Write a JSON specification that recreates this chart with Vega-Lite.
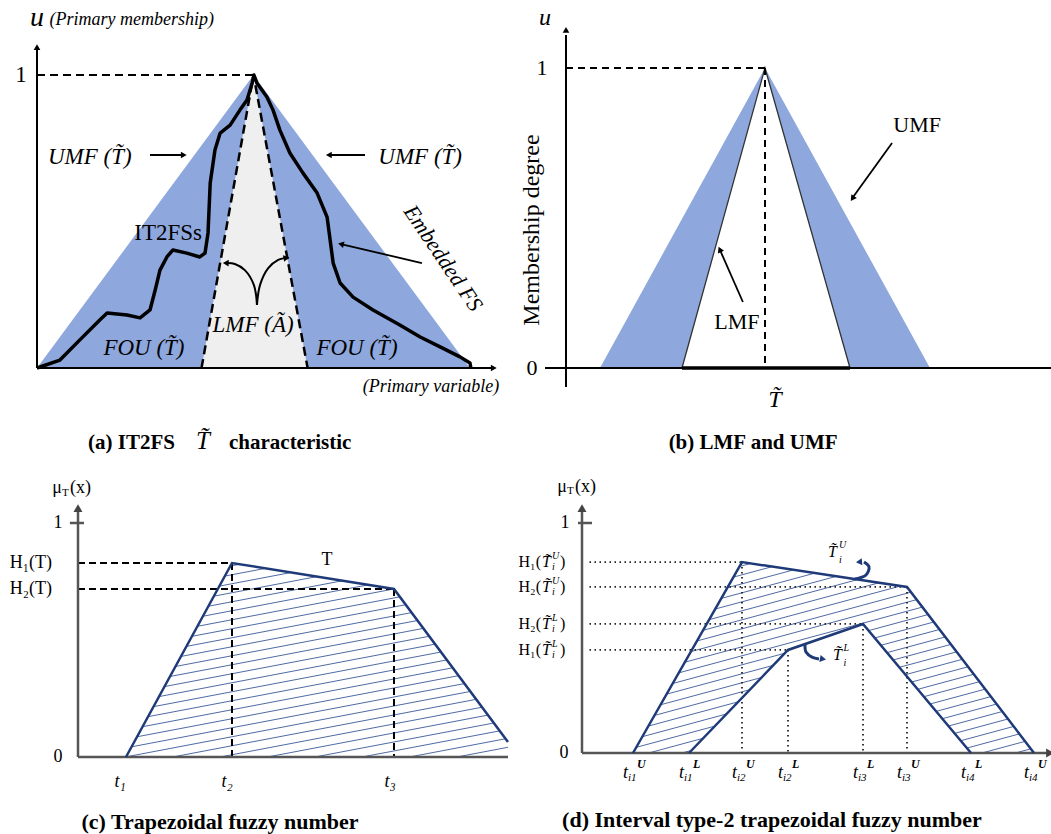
{
"$schema": "https://vega.github.io/schema/vega-lite/v6.json",
"background": "white",
"padding": 0,
"spacing": 0,
"config": {"view": {"stroke": null}, "concat": {"spacing": 0}, "text": {"font": "Liberation Serif", "baseline": "middle"}},
"datasets": {
"a_umf": [{"x":0,"y":0},{"x":5,"y":1},{"x":10,"y":0}],
"a_lmf": [{"x":3.8,"y":0},{"x":5,"y":1},{"x":6.25,"y":0}],
"a_axes": [{"x":0,"y":0,"x2":0,"y2":1.09},{"x":0,"y":0,"x2":10.5,"y2":0}],
"a_dash": [{"x":0,"y":1,"x2":5,"y2":1},{"x":0,"y":0,"x2":3.8,"y2":0},{"x":6.25,"y":0,"x2":10,"y2":0}],
"a_emb": [{"i":1,"x":0,"y":0},{"i":2,"x":0.53,"y":0.027},{"i":3,"x":0.99,"y":0.096},{"i":4,"x":1.45,"y":0.164},{"i":5,"x":1.62,"y":0.188},{"i":6,"x":2.08,"y":0.181},{"i":7,"x":2.38,"y":0.171},{"i":8,"x":2.61,"y":0.198},{"i":9,"x":2.73,"y":0.266},{"i":10,"x":2.84,"y":0.334},{"i":11,"x":3.0,"y":0.379},{"i":12,"x":3.14,"y":0.403},{"i":13,"x":3.46,"y":0.392},{"i":14,"x":3.76,"y":0.379},{"i":15,"x":3.88,"y":0.392},{"i":16,"x":3.95,"y":0.461},{"i":17,"x":4.0,"y":0.631},{"i":18,"x":4.11,"y":0.744},{"i":19,"x":4.23,"y":0.802},{"i":20,"x":4.46,"y":0.829},{"i":21,"x":4.69,"y":0.881},{"i":22,"x":4.85,"y":0.915},{"i":23,"x":4.97,"y":0.973},{"i":24,"x":5.01,"y":1.0},{"i":25,"x":5.08,"y":0.973},{"i":26,"x":5.31,"y":0.925},{"i":27,"x":5.45,"y":0.881},{"i":28,"x":5.61,"y":0.812},{"i":29,"x":5.84,"y":0.734},{"i":30,"x":6.14,"y":0.666},{"i":31,"x":6.47,"y":0.597},{"i":32,"x":6.7,"y":0.515},{"i":33,"x":6.77,"y":0.437},{"i":34,"x":6.84,"y":0.358},{"i":35,"x":7.0,"y":0.29},{"i":36,"x":7.3,"y":0.242},{"i":37,"x":7.76,"y":0.198},{"i":38,"x":8.38,"y":0.147},{"i":39,"x":8.85,"y":0.106},{"i":40,"x":9.31,"y":0.072},{"i":41,"x":9.77,"y":0.038},{"i":42,"x":10.0,"y":0.017},{"i":43,"x":10.02,"y":0}],
"a_arrows": [{"x":2.61,"y":0.727,"x2":3.39,"y2":0.727},{"x":7.575,"y":0.727,"x2":6.74,"y2":0.727},{"x":8.89,"y":0.358,"x2":7.02,"y2":0.423}],
"a_curves": [{"g":"L","i":1,"x":5.08,"y":0.215},{"g":"L","i":2,"x":5.01,"y":0.283},{"g":"L","i":3,"x":4.8,"y":0.334},{"g":"L","i":4,"x":4.57,"y":0.355},{"g":"L","i":5,"x":4.4,"y":0.358},{"g":"R","i":1,"x":5.08,"y":0.215},{"g":"R","i":2,"x":5.15,"y":0.283},{"g":"R","i":3,"x":5.34,"y":0.341},{"g":"R","i":4,"x":5.57,"y":0.369},{"g":"R","i":5,"x":5.72,"y":0.375}],
"a_heads": [{"x":0,"y":1.095,"dir":0},{"x":10.55,"y":0,"dir":90},{"x":3.39,"y":0.727,"dir":90},{"x":6.74,"y":0.727,"dir":270},{"x":7.02,"y":0.423,"dir":283},{"x":4.36,"y":0.358,"dir":272},{"x":5.76,"y":0.376,"dir":78}],
"a_it23": [{"x":1.22,"y":0.72,"t":"UMF (T̃)"},{"x":8.85,"y":0.72,"t":"UMF (T̃)"},{"x":4.99,"y":0.147,"t":"LMF (Ã)"},{"x":2.47,"y":0.068,"t":"FOU (T̃)"},{"x":7.39,"y":0.068,"t":"FOU (T̃)"}],
"a_emb_t": [{"x":9.38,"y":0.375,"t":"Embedded FS"}],
"a_up23": [{"x":3.03,"y":0.461,"t":"IT2FSs"},{"x":-0.37,"y":1.0,"t":"1"}],
"a_it18": [{"x":9.1,"y":-0.065,"t":"(Primary variable)"},{"x":2.19,"y":1.188,"t":"(Primary membership)"}],
"a_u": [{"x":0,"y":1.195,"t":"u"}],
"a_cap": [{"x":1.178,"y":-0.256,"t":"(a)  IT2FS"},{"x":4.434,"y":-0.256,"t":"characteristic"}],
"a_capT": [{"x":3.83,"y":-0.25,"t":"T̃"}],
"b_umf": [{"x":1.03,"y":0},{"x":6.03,"y":1},{"x":11.03,"y":0}],
"b_lmf": [{"x":3.515,"y":0},{"x":6.03,"y":1},{"x":8.606,"y":0}],
"b_base": [{"x":3.515,"y":0,"x2":8.606,"y2":0}],
"b_dash": [{"x":0,"y":1,"x2":6.03,"y2":1},{"x":6.03,"y":1,"x2":6.03,"y2":0}],
"b_axes": [{"x":0,"y":-0.063,"x2":0,"y2":1.11},{"x":-0.636,"y":0,"x2":14.697,"y2":0}],
"b_arrows": [{"x":9.88,"y":0.75,"x2":8.7,"y2":0.57},{"x":5.36,"y":0.22,"x2":4.68,"y2":0.39}],
"b_heads": [{"x":0,"y":1.127,"dir":0},{"x":8.68,"y":0.565,"dir":215},{"x":4.66,"y":0.395,"dir":336}],
"b_it": [{"x":-0.636,"y":1.167,"t":"u"},{"x":6.33,"y":-0.107,"t":"T̃"}],
"b_up22": [{"x":-0.727,"y":1,"t":"1"},{"x":-1.03,"y":0,"t":"0"},{"x":10.64,"y":0.81,"t":"UMF"},{"x":5.18,"y":0.153,"t":"LMF"}],
"b_rot": [{"x":-1.03,"y":0.46,"t":"Membership degree"}],
"b_cap": [{"x":5.67,"y":-0.25,"t":"(b)  LMF and UMF"}],
"c_outline": [{"x":1.6,"y":0},{"x":5.133,"y":0.829},{"x":10.533,"y":0.718},{"x":14.333,"y":0.064}],
"c_hatch": [{"x":14.21,"y":0,"x2":14.333,"y2":0.003},{"x":12.63,"y":0,"x2":14.333,"y2":0.0415},{"x":11.05,"y":0,"x2":14.333,"y2":0.0799},{"x":9.47,"y":0,"x2":14.333,"y2":0.1184},{"x":7.895,"y":0,"x2":14.333,"y2":0.1568},{"x":6.316,"y":0,"x2":14.333,"y2":0.1953},{"x":4.737,"y":0,"x2":14.333,"y2":0.2338},{"x":3.158,"y":0,"x2":14.333,"y2":0.2722},{"x":1.6,"y":0.0005,"x2":14.333,"y2":0.3107},{"x":1.6,"y":0.039,"x2":14.333,"y2":0.3491},{"x":1.6,"y":0.0774,"x2":14.333,"y2":0.3876},{"x":1.6,"y":0.1159,"x2":14.333,"y2":0.4261},{"x":1.6,"y":0.1544,"x2":14.333,"y2":0.4645},{"x":1.6,"y":0.1928,"x2":14.333,"y2":0.503},{"x":1.6,"y":0.2313,"x2":14.333,"y2":0.5415},{"x":1.6,"y":0.2697,"x2":14.333,"y2":0.5799},{"x":1.6,"y":0.3082,"x2":14.333,"y2":0.6184},{"x":1.6,"y":0.3467,"x2":14.333,"y2":0.6568},{"x":1.6,"y":0.3851,"x2":14.333,"y2":0.6953},{"x":1.6,"y":0.4236,"x2":14.333,"y2":0.7338},{"x":1.6,"y":0.4621,"x2":14.333,"y2":0.7722},{"x":1.6,"y":0.5005,"x2":14.333,"y2":0.8107},{"x":1.6,"y":0.539,"x2":14.333,"y2":0.8491},{"x":1.6,"y":0.5774,"x2":14.333,"y2":0.8876},{"x":1.6,"y":0.6159,"x2":14.333,"y2":0.9261},{"x":1.6,"y":0.6544,"x2":14.333,"y2":0.9645},{"x":1.6,"y":0.6928,"x2":14.333,"y2":1.003},{"x":1.6,"y":0.7313,"x2":14.333,"y2":1.0415}],
"c_dash": [{"x":0,"y":0.829,"x2":5.133,"y2":0.829},{"x":0,"y":0.718,"x2":10.533,"y2":0.718},{"x":5.133,"y":0.829,"x2":5.133,"y2":0},{"x":10.533,"y":0.718,"x2":10.533,"y2":0}],
"c_axes": [{"x":0,"y":0,"x2":0,"y2":1.05},{"x":0,"y":0,"x2":14.333,"y2":0},{"x":-0.27,"y":1,"x2":0.2,"y2":1}],
"c_heads": [{"x":0,"y":1.064,"dir":0}],
"c_up18": [{"x":-0.667,"y":1,"t":"1"},{"x":-0.667,"y":0,"t":"0"},{"x":8.3,"y":0.842,"t":"T"}],
"c_H": [{"x":-0.867,"y":0.829,"t":"H₁(T)"},{"x":-0.867,"y":0.718,"t":"H₂(T)"}],
"c_t": [{"x":1.4,"y":-0.107,"t":"t₁"},{"x":4.97,"y":-0.107,"t":"t₂"},{"x":10.4,"y":-0.107,"t":"t₃"}],
"c_mu": [{"x":-0.533,"y":1.15,"t":"μ"}],
"c_muT": [{"x":-0.533,"y":1.128,"t":"T"}],
"c_mux": [{"x":-0.267,"y":1.15,"t":"(x)"}],
"c_cap": [{"x":4.733,"y":-0.2778,"t":"(c)  Trapezoidal fuzzy number"}],
"d_upper": [{"x":1.7,"y":0},{"x":5.333,"y":0.83},{"x":10.833,"y":0.722},{"x":15.067,"y":0}],
"d_lower": [{"x":3.567,"y":0},{"x":6.867,"y":0.448},{"x":9.367,"y":0.561},{"x":12.967,"y":0}],
"d_hatch": [{"x":14.444,"y":0,"x2":15.067,"y2":0.0219},{"x":13.333,"y":0,"x2":15.067,"y2":0.061},{"x":12.222,"y":0,"x2":15.067,"y2":0.1002},{"x":11.111,"y":0,"x2":15.067,"y2":0.1393},{"x":10.0,"y":0,"x2":15.067,"y2":0.1784},{"x":8.889,"y":0,"x2":15.067,"y2":0.2176},{"x":7.778,"y":0,"x2":15.067,"y2":0.2567},{"x":6.667,"y":0,"x2":15.067,"y2":0.2958},{"x":5.556,"y":0,"x2":15.067,"y2":0.335},{"x":4.444,"y":0,"x2":15.067,"y2":0.3741},{"x":3.333,"y":0,"x2":15.067,"y2":0.4132},{"x":2.222,"y":0,"x2":15.067,"y2":0.4523},{"x":1.7,"y":0.0207,"x2":15.067,"y2":0.4915},{"x":1.7,"y":0.0599,"x2":15.067,"y2":0.5306},{"x":1.7,"y":0.099,"x2":15.067,"y2":0.5697},{"x":1.7,"y":0.1381,"x2":15.067,"y2":0.6089},{"x":1.7,"y":0.1773,"x2":15.067,"y2":0.648},{"x":1.7,"y":0.2164,"x2":15.067,"y2":0.6871},{"x":1.7,"y":0.2555,"x2":15.067,"y2":0.7263},{"x":1.7,"y":0.2947,"x2":15.067,"y2":0.7654},{"x":1.7,"y":0.3338,"x2":15.067,"y2":0.8045},{"x":1.7,"y":0.3729,"x2":15.067,"y2":0.8437},{"x":1.7,"y":0.412,"x2":15.067,"y2":0.8828},{"x":1.7,"y":0.4512,"x2":15.067,"y2":0.9219},{"x":1.7,"y":0.4903,"x2":15.067,"y2":0.961},{"x":1.7,"y":0.5294,"x2":15.067,"y2":1.0002},{"x":1.7,"y":0.5686,"x2":15.067,"y2":1.0393},{"x":1.7,"y":0.6077,"x2":15.067,"y2":1.0784},{"x":1.7,"y":0.6468,"x2":15.067,"y2":1.1176},{"x":1.7,"y":0.686,"x2":15.067,"y2":1.1567}],
"d_dots": [{"x":0.25,"y":0.83,"x2":5.333,"y2":0.83},{"x":0.25,"y":0.722,"x2":10.833,"y2":0.722},{"x":0.25,"y":0.561,"x2":9.367,"y2":0.561},{"x":0.25,"y":0.448,"x2":6.867,"y2":0.448},{"x":5.333,"y":0.83,"x2":5.333,"y2":0},{"x":10.833,"y":0.722,"x2":10.833,"y2":0},{"x":6.867,"y":0.448,"x2":6.867,"y2":0},{"x":9.367,"y":0.561,"x2":9.367,"y2":0}],
"d_axes": [{"x":0,"y":0,"x2":0,"y2":1.05},{"x":0,"y":0,"x2":15.5,"y2":0},{"x":-0.133,"y":1,"x2":0.333,"y2":1}],
"d_heads": [{"x":0,"y":1.065,"dir":0},{"x":15.6,"y":0,"dir":90}],
"d_curl": [{"g":"U","i":1,"x":9.1,"y":0.757},{"g":"U","i":2,"x":9.467,"y":0.774},{"g":"U","i":3,"x":9.567,"y":0.809},{"g":"U","i":4,"x":9.4,"y":0.83},{"g":"L","i":1,"x":7.433,"y":0.474},{"g":"L","i":2,"x":7.467,"y":0.439},{"g":"L","i":3,"x":7.667,"y":0.417},{"g":"L","i":4,"x":7.9,"y":0.409}],
"d_curlheads": [{"x":9.233,"y":0.83,"dir":265},{"x":8.033,"y":0.409,"dir":100}],
"d_up18": [{"x":-0.567,"y":1,"t":"1"},{"x":-0.6,"y":0,"t":"0"}],
"d_mu": [{"x":-0.5,"y":1.157,"t":"μ"}],
"d_muT": [{"x":-0.5,"y":1.137,"t":"T"}],
"d_mux": [{"x":-0.233,"y":1.157,"t":"(x)"}],
"d_H": [{"x":-1.033,"y":0.83,"h":"H₁(","s":"U"},{"x":-1.033,"y":0.722,"h":"H₂(","s":"U"},{"x":-1.033,"y":0.561,"h":"H₂(","s":"L"},{"x":-1.033,"y":0.448,"h":"H₁(","s":"L"}],
"d_t": [{"x":1.533,"y":-0.087,"s":"i1","p":"U"},{"x":3.4,"y":-0.087,"s":"i1","p":"L"},{"x":5.167,"y":-0.087,"s":"i2","p":"U"},{"x":6.7,"y":-0.087,"s":"i2","p":"L"},{"x":9.2,"y":-0.087,"s":"i3","p":"L"},{"x":10.667,"y":-0.087,"s":"i3","p":"U"},{"x":12.8,"y":-0.087,"s":"i4","p":"L"},{"x":14.9,"y":-0.087,"s":"i4","p":"U"}],
"d_Tlab": [{"x":8.2,"y":0.874},{"x":8.367,"y":0.426}],
"d_Tsmall": [{"x":8.567,"y":0.904,"t":"U"},{"x":8.567,"y":0.839,"t":"i"},{"x":8.72,"y":0.456,"t":"L"},{"x":8.72,"y":0.39,"t":"i"}],
"d_cap": [{"x":6.333,"y":-0.291,"t":"(d)  Interval type-2 trapezoidal fuzzy number"}]
},
"vconcat": [
{"spacing": 0, "bounds": "flush", "hconcat": [
{"width": 530, "height": 460,
 "encoding": {
  "x": {"field": "x", "type": "quantitative", "scale": {"domain": [-0.8545, 11.386], "nice": false, "zero": false}, "axis": null},
  "y": {"field": "y", "type": "quantitative", "scale": {"domain": [-0.314, 1.256], "nice": false, "zero": false}, "axis": null}},
 "layer": [
  {"data": {"name": "a_umf"}, "mark": {"type": "area", "color": "#8ea7dc"}, "encoding": {"y2": {"datum": 0}}},
  {"data": {"name": "a_lmf"}, "mark": {"type": "area", "color": "#efefef"}, "encoding": {"y2": {"datum": 0}}},
  {"data": {"name": "a_axes"}, "mark": {"type": "rule", "color": "black", "strokeWidth": 2}, "encoding": {"x2": {"field": "x2"}, "y2": {"field": "y2"}}},
  {"data": {"name": "a_lmf"}, "mark": {"type": "line", "color": "black", "strokeWidth": 2.5, "strokeDash": [9, 5]}, "encoding": {}},
  {"data": {"name": "a_dash"}, "mark": {"type": "rule", "color": "black", "strokeWidth": 2.2, "strokeDash": [8, 5]}, "encoding": {"x2": {"field": "x2"}, "y2": {"field": "y2"}}},
  {"data": {"name": "a_emb"}, "mark": {"type": "line", "color": "black", "strokeWidth": 3.5, "strokeJoin": "round"}, "encoding": {"order": {"field": "i"}}},
  {"data": {"name": "a_arrows"}, "mark": {"type": "rule", "color": "black", "strokeWidth": 1.8}, "encoding": {"x2": {"field": "x2"}, "y2": {"field": "y2"}}},
  {"data": {"name": "a_curves"}, "mark": {"type": "line", "color": "black", "strokeWidth": 2, "interpolate": "catmull-rom"}, "encoding": {"detail": {"field": "g"}, "order": {"field": "i"}}},
  {"data": {"name": "a_heads"}, "mark": {"type": "point", "shape": "triangle-up", "filled": true, "color": "black", "size": 45, "opacity": 1}, "encoding": {"angle": {"field": "dir", "type": "quantitative", "scale": null}}},
  {"data": {"name": "a_it23"}, "mark": {"type": "text", "fontStyle": "italic", "fontSize": 23}, "encoding": {"text": {"field": "t"}}},
  {"data": {"name": "a_emb_t"}, "mark": {"type": "text", "fontStyle": "italic", "fontSize": 22, "angle": 56}, "encoding": {"text": {"field": "t"}}},
  {"data": {"name": "a_up23"}, "mark": {"type": "text", "fontSize": 23}, "encoding": {"text": {"field": "t"}}},
  {"data": {"name": "a_it18"}, "mark": {"type": "text", "fontStyle": "italic", "fontSize": 18}, "encoding": {"text": {"field": "t"}}},
  {"data": {"name": "a_u"}, "mark": {"type": "text", "fontStyle": "italic", "fontSize": 28}, "encoding": {"text": {"field": "t"}}},
  {"data": {"name": "a_cap"}, "mark": {"type": "text", "fontWeight": "bold", "fontSize": 21, "align": "left"}, "encoding": {"text": {"field": "t"}}},
  {"data": {"name": "a_capT"}, "mark": {"type": "text", "fontStyle": "italic", "fontSize": 25}, "encoding": {"text": {"field": "t"}}}
 ]},
{"width": 521, "height": 460,
 "encoding": {
  "x": {"field": "x", "type": "quantitative", "scale": {"domain": [-1.0909, 14.697], "nice": false, "zero": false}, "axis": null},
  "y": {"field": "y", "type": "quantitative", "scale": {"domain": [-0.3067, 1.2267], "nice": false, "zero": false}, "axis": null}},
 "layer": [
  {"data": {"name": "b_umf"}, "mark": {"type": "area", "color": "#8ea7dc"}, "encoding": {"y2": {"datum": 0}}},
  {"data": {"name": "b_lmf"}, "mark": {"type": "area", "color": "white"}, "encoding": {"y2": {"datum": 0}}},
  {"data": {"name": "b_lmf"}, "mark": {"type": "line", "color": "#333333", "strokeWidth": 1.3}, "encoding": {}},
  {"data": {"name": "b_axes"}, "mark": {"type": "rule", "color": "black", "strokeWidth": 2}, "encoding": {"x2": {"field": "x2"}, "y2": {"field": "y2"}}},
  {"data": {"name": "b_base"}, "mark": {"type": "rule", "color": "black", "strokeWidth": 3.5}, "encoding": {"x2": {"field": "x2"}, "y2": {"field": "y2"}}},
  {"data": {"name": "b_dash"}, "mark": {"type": "rule", "color": "black", "strokeWidth": 2, "strokeDash": [7, 5]}, "encoding": {"x2": {"field": "x2"}, "y2": {"field": "y2"}}},
  {"data": {"name": "b_arrows"}, "mark": {"type": "rule", "color": "black", "strokeWidth": 1.8}, "encoding": {"x2": {"field": "x2"}, "y2": {"field": "y2"}}},
  {"data": {"name": "b_heads"}, "mark": {"type": "point", "shape": "triangle-up", "filled": true, "color": "black", "size": 45, "opacity": 1}, "encoding": {"angle": {"field": "dir", "type": "quantitative", "scale": null}}},
  {"data": {"name": "b_it"}, "mark": {"type": "text", "fontStyle": "italic", "fontSize": 24}, "encoding": {"text": {"field": "t"}}},
  {"data": {"name": "b_up22"}, "mark": {"type": "text", "fontSize": 22}, "encoding": {"text": {"field": "t"}}},
  {"data": {"name": "b_rot"}, "mark": {"type": "text", "fontSize": 24, "angle": 270}, "encoding": {"text": {"field": "t"}}},
  {"data": {"name": "b_cap"}, "mark": {"type": "text", "fontWeight": "bold", "fontSize": 21}, "encoding": {"text": {"field": "t"}}}
 ]}
]},
{"spacing": 0, "bounds": "flush", "hconcat": [
{"width": 510, "height": 374,
 "encoding": {
  "x": {"field": "x", "type": "quantitative", "scale": {"domain": [-2.6, 14.4], "nice": false, "zero": false}, "axis": null},
  "y": {"field": "y", "type": "quantitative", "scale": {"domain": [-0.3291, 1.2692], "nice": false, "zero": false}, "axis": null}},
 "layer": [
  {"data": {"name": "c_hatch"}, "mark": {"type": "rule", "color": "#3b5998", "strokeWidth": 0.9, "clip": true}, "encoding": {"x2": {"field": "x2"}, "y2": {"field": "y2"}}},
  {"data": {"name": "c_outline"}, "mark": {"type": "area", "color": "white", "clip": true}, "encoding": {"y2": {"datum": 1.27}}},
  {"data": {"name": "c_dash"}, "mark": {"type": "rule", "color": "black", "strokeWidth": 2, "strokeDash": [7, 4]}, "encoding": {"x2": {"field": "x2"}, "y2": {"field": "y2"}}},
  {"data": {"name": "c_axes"}, "mark": {"type": "rule", "color": "#555555", "strokeWidth": 2.5}, "encoding": {"x2": {"field": "x2"}, "y2": {"field": "y2"}}},
  {"data": {"name": "c_heads"}, "mark": {"type": "point", "shape": "triangle-up", "filled": true, "color": "#444444", "size": 80, "opacity": 1}, "encoding": {"angle": {"field": "dir", "type": "quantitative", "scale": null}}},
  {"data": {"name": "c_outline"}, "mark": {"type": "line", "color": "#1f3a78", "strokeWidth": 2.5}, "encoding": {}},
  {"data": {"name": "c_up18"}, "mark": {"type": "text", "fontSize": 18}, "encoding": {"text": {"field": "t"}}},
  {"data": {"name": "c_H"}, "mark": {"type": "text", "fontSize": 18, "align": "right"}, "encoding": {"text": {"field": "t"}}},
  {"data": {"name": "c_t"}, "mark": {"type": "text", "fontSize": 18, "fontStyle": "italic"}, "encoding": {"text": {"field": "t"}}},
  {"data": {"name": "c_mu"}, "mark": {"type": "text", "fontSize": 18, "align": "right"}, "encoding": {"text": {"field": "t"}}},
  {"data": {"name": "c_muT"}, "mark": {"type": "text", "fontSize": 11, "align": "left"}, "encoding": {"text": {"field": "t"}}},
  {"data": {"name": "c_mux"}, "mark": {"type": "text", "fontSize": 18, "align": "left"}, "encoding": {"text": {"field": "t"}}},
  {"data": {"name": "c_cap"}, "mark": {"type": "text", "fontWeight": "bold", "fontSize": 22}, "encoding": {"text": {"field": "t"}}}
 ]},
{"width": 541, "height": 374,
 "encoding": {
  "x": {"field": "x", "type": "quantitative", "scale": {"domain": [-2.4, 15.6333], "nice": false, "zero": false}, "axis": null},
  "y": {"field": "y", "type": "quantitative", "scale": {"domain": [-0.3522, 1.2739], "nice": false, "zero": false}, "axis": null}},
 "layer": [
  {"data": {"name": "d_hatch"}, "mark": {"type": "rule", "color": "#3b5998", "strokeWidth": 0.9, "clip": true}, "encoding": {"x2": {"field": "x2"}, "y2": {"field": "y2"}}},
  {"data": {"name": "d_upper"}, "mark": {"type": "area", "color": "white", "clip": true}, "encoding": {"y2": {"datum": 1.28}}},
  {"data": {"name": "d_lower"}, "mark": {"type": "area", "color": "white"}, "encoding": {"y2": {"datum": 0}}},
  {"data": {"name": "d_dots"}, "mark": {"type": "rule", "color": "#222222", "strokeWidth": 1.8, "strokeDash": [1.5, 3.5]}, "encoding": {"x2": {"field": "x2"}, "y2": {"field": "y2"}}},
  {"data": {"name": "d_axes"}, "mark": {"type": "rule", "color": "#555555", "strokeWidth": 2.5}, "encoding": {"x2": {"field": "x2"}, "y2": {"field": "y2"}}},
  {"data": {"name": "d_heads"}, "mark": {"type": "point", "shape": "triangle-up", "filled": true, "color": "#444444", "size": 80, "opacity": 1}, "encoding": {"angle": {"field": "dir", "type": "quantitative", "scale": null}}},
  {"data": {"name": "d_upper"}, "mark": {"type": "line", "color": "#1f3a78", "strokeWidth": 2.5}, "encoding": {}},
  {"data": {"name": "d_lower"}, "mark": {"type": "line", "color": "#1f3a78", "strokeWidth": 2.5}, "encoding": {}},
  {"data": {"name": "d_curl"}, "mark": {"type": "line", "color": "#1f3a78", "strokeWidth": 3, "interpolate": "catmull-rom"}, "encoding": {"detail": {"field": "g"}, "order": {"field": "i"}}},
  {"data": {"name": "d_curlheads"}, "mark": {"type": "point", "shape": "triangle-up", "filled": true, "color": "#1f3a78", "size": 50, "opacity": 1}, "encoding": {"angle": {"field": "dir", "type": "quantitative", "scale": null}}},
  {"data": {"name": "d_up18"}, "mark": {"type": "text", "fontSize": 18}, "encoding": {"text": {"field": "t"}}},
  {"data": {"name": "d_mu"}, "mark": {"type": "text", "fontSize": 18, "align": "right"}, "encoding": {"text": {"field": "t"}}},
  {"data": {"name": "d_muT"}, "mark": {"type": "text", "fontSize": 11, "align": "left"}, "encoding": {"text": {"field": "t"}}},
  {"data": {"name": "d_mux"}, "mark": {"type": "text", "fontSize": 18, "align": "left"}, "encoding": {"text": {"field": "t"}}},
  {"data": {"name": "d_H"}, "mark": {"type": "text", "fontSize": 16, "align": "right", "dx": -10}, "encoding": {"text": {"field": "h"}}},
  {"data": {"name": "d_H"}, "mark": {"type": "text", "fontSize": 16, "fontStyle": "italic", "align": "right"}, "encoding": {"text": {"value": "T̃"}}},
  {"data": {"name": "d_H"}, "mark": {"type": "text", "fontSize": 10, "fontStyle": "italic", "align": "left", "dx": 1, "dy": -6}, "encoding": {"text": {"field": "s"}}},
  {"data": {"name": "d_H"}, "mark": {"type": "text", "fontSize": 10, "fontStyle": "italic", "align": "left", "dx": 1, "dy": 5}, "encoding": {"text": {"value": "i"}}},
  {"data": {"name": "d_H"}, "mark": {"type": "text", "fontSize": 16, "align": "left", "dx": 9}, "encoding": {"text": {"value": ")"}}},
  {"data": {"name": "d_t"}, "mark": {"type": "text", "fontSize": 18, "fontStyle": "italic", "align": "right"}, "encoding": {"text": {"value": "t"}}},
  {"data": {"name": "d_t"}, "mark": {"type": "text", "fontSize": 11, "fontStyle": "italic", "align": "left", "dy": 5}, "encoding": {"text": {"field": "s"}}},
  {"data": {"name": "d_t"}, "mark": {"type": "text", "fontSize": 12, "fontStyle": "italic", "fontWeight": "bold", "align": "left", "dx": 9, "dy": -9}, "encoding": {"text": {"field": "p"}}},
  {"data": {"name": "d_Tlab"}, "mark": {"type": "text", "fontSize": 16, "fontStyle": "italic", "align": "left"}, "encoding": {"text": {"value": "T̃"}}},
  {"data": {"name": "d_Tsmall"}, "mark": {"type": "text", "fontSize": 10, "fontStyle": "italic", "align": "left"}, "encoding": {"text": {"field": "t"}}},
  {"data": {"name": "d_cap"}, "mark": {"type": "text", "fontWeight": "bold", "fontSize": 22}, "encoding": {"text": {"field": "t"}}}
 ]}
]}
]
}
